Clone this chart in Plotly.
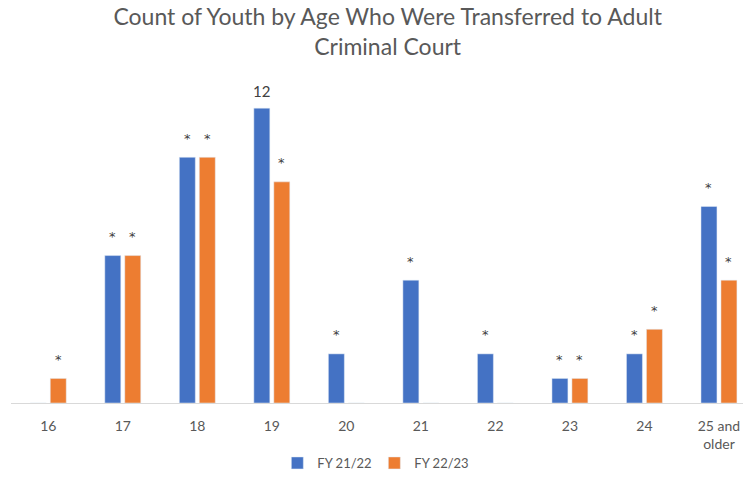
import plotly.graph_objects as go

categories = ["16", "17", "18", "19", "20", "21", "22", "23", "24", "25 and<br>older"]
fy2122 = [0, 6, 10, 12, 2, 5, 2, 1, 2, 8]
fy2223 = [1, 6, 10, 9, 0, 0, 0, 1, 3, 5]
labels2122 = ["", "*", "*", "12", "*", "*", "*", "*", "*", "*"]
labels2223 = ["*", "*", "*", "*", "", "", "", "*", "*", "*"]

x = list(range(len(categories)))
BARGAP = 0.464
slot = (1 - BARGAP) / 2

fig = go.Figure()
fig.add_trace(go.Bar(x=x, y=fy2122, name="FY 21/22", marker_color="#4472C4"))
fig.add_trace(go.Bar(x=x, y=fy2223, name="FY 22/23", marker_color="#ED7D31"))

# data labels placed above each bar
for vals, labs, sign in [(fy2122, labels2122, -1), (fy2223, labels2223, 1)]:
    for xi, v, lab in zip(x, vals, labs):
        if not lab:
            continue
        is_star = lab == "*"
        fig.add_annotation(
            x=xi + sign * slot / 2, y=v, xref="x", yref="y",
            text=lab, showarrow=False, yanchor="middle",
            yshift=19 if is_star else 17,
            font=dict(family="DejaVu Sans" if is_star else "Lato, sans-serif",
                      size=13 if is_star else 15, color="#404040"),
        )

fig.update_layout(
    width=743, height=470,
    margin=dict(l=3, r=0, t=51, b=74),
    paper_bgcolor="white", plot_bgcolor="white",
    font=dict(family="Lato, Open Sans, sans-serif", color="#595959"),
    title=dict(text="Count of Youth by Age Who Were Transferred to Adult<br>Criminal Court",
               x=0.511, xanchor="center", y=0.963, yanchor="top",
               font=dict(size=23, color="#595959")),
    barmode="group", bargap=BARGAP, bargroupgap=0.2,
    xaxis=dict(tickvals=x, ticktext=categories, range=[-0.5, 9.43],
               showline=True, linecolor="#d9d9d9", linewidth=1,
               showgrid=False, zeroline=False, ticks="",
               ticklabelstandoff=10,
               tickfont=dict(size=14, color="#595959")),
    yaxis=dict(range=[0, 14], visible=False, showgrid=False),
    legend=dict(orientation="h", x=0.491, xanchor="center", y=-0.175, yanchor="middle",
                font=dict(size=13, color="#595959"), itemwidth=30,
                entrywidth=52, entrywidthmode="pixels"),
    showlegend=True,
)

fig.write_html("out.html")
